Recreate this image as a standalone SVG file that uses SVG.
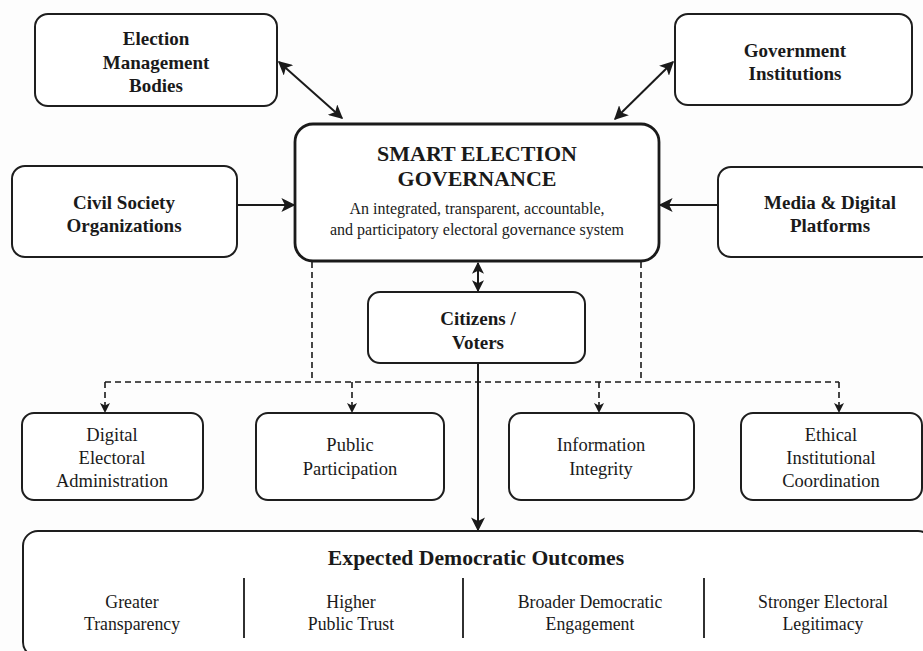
<svg xmlns="http://www.w3.org/2000/svg" width="923" height="651" viewBox="0 0 923 651">
<defs>
<style>
.box{fill:#fff;stroke:#1e1e1e;stroke-width:2}
.main{fill:#fff;stroke:#1a1a1a;stroke-width:2.8}
.t{fill:#1a1a1a;text-anchor:middle}
.b{font-weight:bold;font-size:19px}
.r{font-size:18.5px}
.o{font-size:17.8px}
.con{stroke:#1a1a1a;stroke-width:2;fill:none}
.dash{stroke:#1a1a1a;stroke-width:1.6;fill:none;stroke-dasharray:6 4}
.div{stroke:#1a1a1a;stroke-width:1.8}
</style>
<marker id="ahb" viewBox="0 0 10 10" refX="9" refY="5" markerWidth="14" markerHeight="14" markerUnits="userSpaceOnUse" orient="auto-start-reverse">
<path d="M0,0 L10,5 L0,10 L2.5,5 Z" fill="#1a1a1a"/>
</marker>
<marker id="ahm" viewBox="0 0 10 10" refX="9" refY="5" markerWidth="12" markerHeight="12" markerUnits="userSpaceOnUse" orient="auto-start-reverse">
<path d="M0,0 L10,5 L0,10 L2.5,5 Z" fill="#1a1a1a"/>
</marker>
<marker id="ahs" viewBox="0 0 10 10" refX="9" refY="5" markerWidth="10" markerHeight="10" markerUnits="userSpaceOnUse" orient="auto-start-reverse">
<path d="M0,0 L10,5 L0,10 L2.5,5 Z" fill="#1a1a1a"/>
</marker>
</defs>
<rect width="923" height="651" fill="#fdfdfd"/>

<g id="connectors">
<line class="con" x1="279" y1="62" x2="342" y2="118" marker-start="url(#ahb)" marker-end="url(#ahb)"/>
<line class="con" x1="673" y1="62" x2="615" y2="119" marker-start="url(#ahb)" marker-end="url(#ahb)"/>
<line class="con" x1="237" y1="205" x2="294" y2="205" marker-end="url(#ahb)"/>
<line class="con" x1="718" y1="205" x2="660" y2="205" marker-end="url(#ahb)"/>
<line class="con" x1="478" y1="263" x2="478" y2="291" stroke-width="2.4" marker-start="url(#ahm)" marker-end="url(#ahm)"/>
<line class="con" x1="478" y1="363" x2="478" y2="530" marker-end="url(#ahb)"/>
<polyline class="dash" points="312,262 312,382"/>
<polyline class="dash" points="641,262 641,382"/>
<line class="dash" x1="105" y1="382" x2="839" y2="382"/>
<line class="dash" x1="105" y1="382" x2="105" y2="412" marker-end="url(#ahs)"/>
<line class="dash" x1="352" y1="382" x2="352" y2="412" marker-end="url(#ahs)"/>
<line class="dash" x1="599" y1="382" x2="599" y2="412" marker-end="url(#ahs)"/>
<line class="dash" x1="839" y1="382" x2="839" y2="412" marker-end="url(#ahs)"/>
</g>

<g font-family="'Liberation Serif', 'DejaVu Serif', 'Noto Serif', 'Times New Roman', Times, serif">
<g id="emb">
<rect class="box" x="35" y="14" width="242" height="92" rx="13"/>
<text class="t b" x="156" y="45">Election</text>
<text class="t b" x="156" y="69">Management</text>
<text class="t b" x="156" y="92">Bodies</text>
</g>

<g id="gov">
<rect class="box" x="675" y="14" width="237" height="91" rx="13"/>
<text class="t b" x="795" y="57">Government</text>
<text class="t b" x="795" y="80">Institutions</text>
</g>

<g id="cso">
<rect class="box" x="12" y="166" width="225" height="91" rx="13"/>
<text class="t b" x="124" y="209">Civil Society</text>
<text class="t b" x="124" y="232">Organizations</text>
</g>

<g id="media">
<rect class="box" x="718" y="167" width="215" height="90" rx="13"/>
<text class="t b" x="830" y="209">Media &amp; Digital</text>
<text class="t b" x="830" y="232">Platforms</text>
</g>

<g id="seg">
<rect class="main" x="295" y="124" width="364" height="137" rx="18"/>
<text class="t" x="477" y="161" font-weight="bold" font-size="22">SMART ELECTION</text>
<text class="t" x="477" y="186" font-weight="bold" font-size="22">GOVERNANCE</text>
<text class="t" x="477" y="214" font-size="16">An integrated, transparent, accountable,</text>
<text class="t" x="477" y="235" font-size="16">and participatory electoral governance system</text>
</g>

<g id="citizens">
<rect class="box" x="368" y="292" width="217" height="71" rx="12"/>
<text class="t b" x="478" y="325">Citizens /</text>
<text class="t b" x="478" y="349">Voters</text>
</g>

<g id="dea">
<rect class="box" x="22" y="413" width="181" height="87" rx="12"/>
<text class="t r" x="112" y="441">Digital</text>
<text class="t r" x="112" y="464">Electoral</text>
<text class="t r" x="112" y="487">Administration</text>
</g>

<g id="pp">
<rect class="box" x="256" y="413" width="188" height="87" rx="12"/>
<text class="t r" x="350" y="451">Public</text>
<text class="t r" x="350" y="475">Participation</text>
</g>

<g id="ii">
<rect class="box" x="509" y="413" width="185" height="87" rx="12"/>
<text class="t r" x="601" y="451">Information</text>
<text class="t r" x="601" y="475">Integrity</text>
</g>

<g id="eic">
<rect class="box" x="741" y="413" width="181" height="87" rx="12"/>
<text class="t r" x="831" y="441">Ethical</text>
<text class="t r" x="831" y="464">Institutional</text>
<text class="t r" x="831" y="487">Coordination</text>
</g>

<g id="outcomes">
<rect class="box" x="23" y="531" width="910" height="126" rx="15"/>
<text class="t" x="476" y="565" font-weight="bold" font-size="21.7">Expected Democratic Outcomes</text>
<line class="div" x1="244" y1="578" x2="244" y2="638"/>
<line class="div" x1="463" y1="578" x2="463" y2="638"/>
<line class="div" x1="704" y1="578" x2="704" y2="638"/>
<text class="t o" x="132" y="608">Greater</text>
<text class="t o" x="132" y="630">Transparency</text>
<text class="t o" x="351" y="608">Higher</text>
<text class="t o" x="351" y="630">Public Trust</text>
<text class="t o" x="590" y="608">Broader Democratic</text>
<text class="t o" x="590" y="630">Engagement</text>
<text class="t o" x="823" y="608">Stronger Electoral</text>
<text class="t o" x="823" y="630">Legitimacy</text>
</g>
</g>
</svg>
